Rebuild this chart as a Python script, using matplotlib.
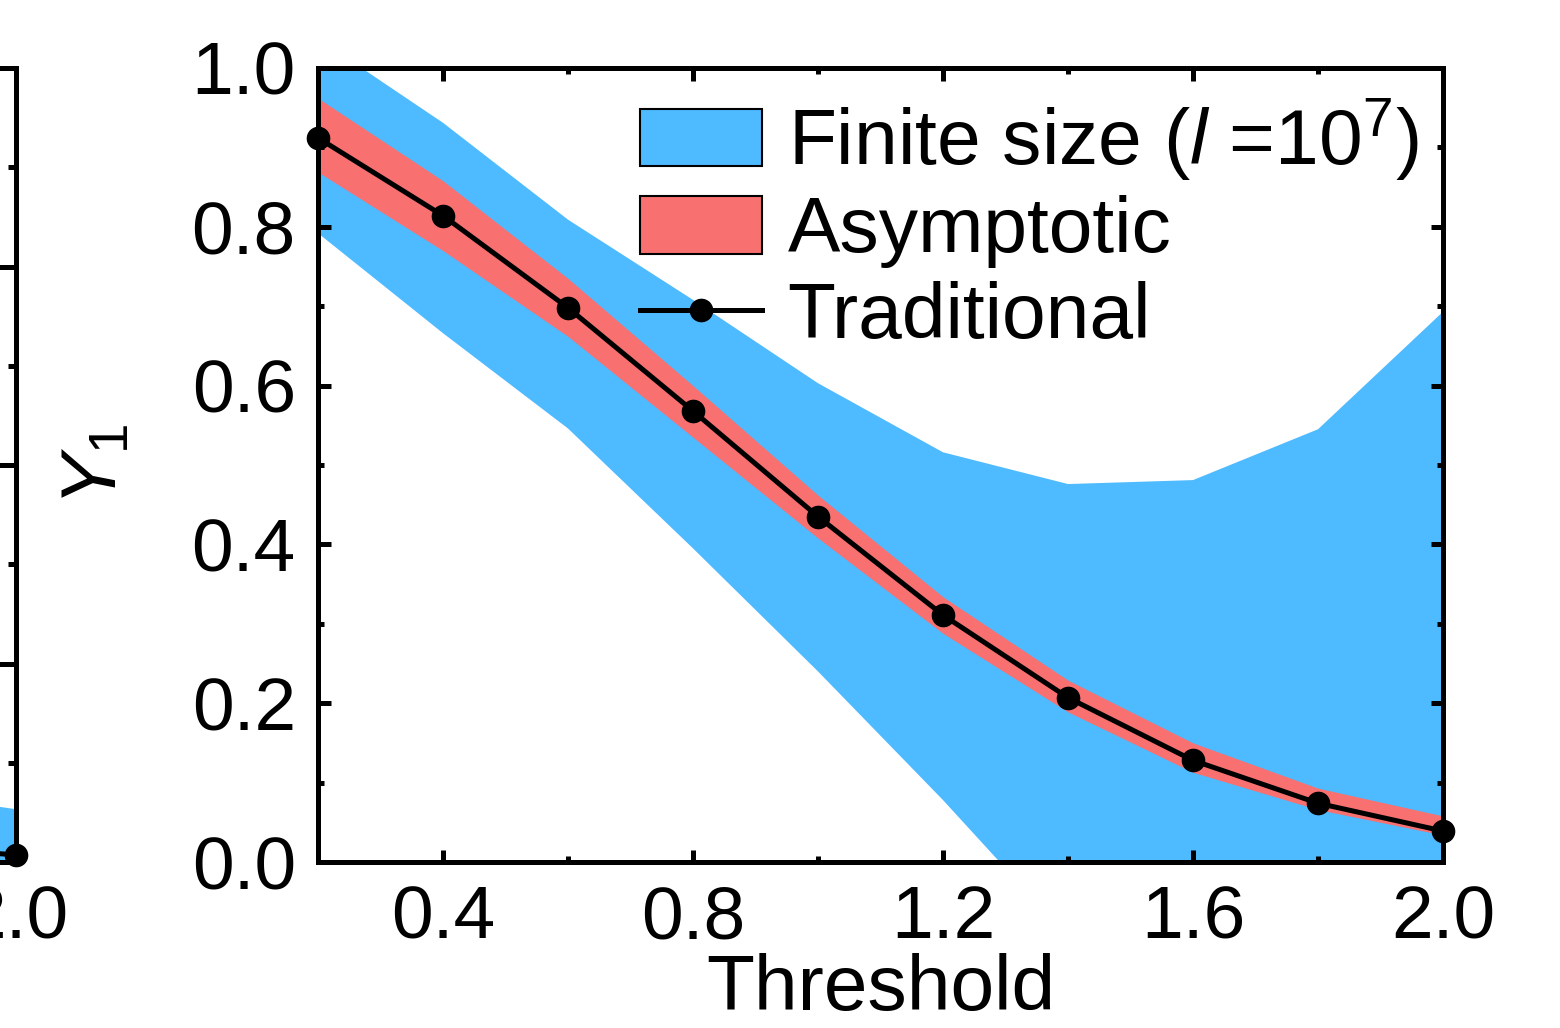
import matplotlib
matplotlib.use("Agg")
import matplotlib.pyplot as plt
from matplotlib.patches import Patch
from matplotlib.lines import Line2D
from matplotlib.ticker import MultipleLocator

plt.rcParams['font.family'] = ['Liberation Sans', 'DejaVu Sans']
plt.rcParams['mathtext.fontset'] = 'custom'
plt.rcParams['mathtext.rm'] = 'Liberation Sans'
plt.rcParams['mathtext.it'] = 'Liberation Sans:italic'

BLUE = '#4EBAFF'
RED = '#F87070'
FS = 54      # tick labels
FS_TXT = 56.5  # axis label and legend

# data
threshold = [0.2, 0.4, 0.6, 0.8, 1.0, 1.2, 1.4, 1.6, 1.8, 2.0]
traditional = [0.912, 0.814, 0.698, 0.568, 0.435, 0.311, 0.207, 0.128, 0.074, 0.039]
asym_upper = [0.962, 0.858, 0.735, 0.600, 0.462, 0.334, 0.229, 0.150, 0.093, 0.058]
asym_lower = [0.869, 0.770, 0.662, 0.535, 0.408, 0.288, 0.189, 0.113, 0.066, 0.034]
finite_upper = [1.037, 0.931, 0.809, 0.708, 0.603, 0.516, 0.476, 0.481, 0.545, 0.693]
finite_lower = [0.792, 0.666, 0.546, 0.395, 0.240, 0.078, -0.094, -0.25, -0.40, -0.55]

# neighbouring panel, only its right edge shows
left_threshold = [1.8, 2.0]
left_traditional = [0.02, 0.009]
left_finite_upper = [0.09, 0.067]
left_finite_lower = [0.0, 0.0]

legend_labels = ['Finite size ($\\mathit{l}$ =10$^{7}$)', 'Asymptotic', 'Traditional']


def style_axes(ax, yminor):
    ax.set_xlim(0.2, 2.0)
    ax.set_ylim(0, 1.0)
    ax.xaxis.set_major_locator(MultipleLocator(0.4))
    ax.xaxis.set_minor_locator(MultipleLocator(0.2))
    ax.yaxis.set_major_locator(MultipleLocator(yminor * 2))
    ax.yaxis.set_minor_locator(MultipleLocator(yminor))
    ax.xaxis.set_major_formatter(plt.FormatStrFormatter('%.1f'))
    ax.yaxis.set_major_formatter(plt.FormatStrFormatter('%.1f'))
    ax.tick_params(which='both', direction='in', top=True, right=True, width=3.6,
                   labelsize=FS)
    ax.tick_params(which='major', length=9, pad=16)
    ax.tick_params(which='minor', length=4)
    for s in ax.spines.values():
        s.set_linewidth(3.6)


fig = plt.figure(figsize=(15.6, 10.28), dpi=100)
W, H = 1560, 1028
ax = fig.add_axes([318 / W, 166 / H, 1125 / W, 794 / H])
axl = fig.add_axes([(16 - 1125) / W, 166 / H, 1125 / W, 794 / H])

# main panel
ax.fill_between(threshold, finite_lower, finite_upper, color=BLUE, lw=0)
ax.fill_between(threshold, asym_lower, asym_upper, color=RED, lw=0)
ax.plot(threshold, traditional, '-o', color='k', lw=3.6, ms=16, clip_on=False, zorder=5)
style_axes(ax, 0.1)
ax.set_xlabel('Threshold', fontsize=FS_TXT, labelpad=0)
ax.set_ylabel('$\\mathit{Y}_{1}$', fontsize=FS_TXT)
ax.yaxis.set_label_coords(-0.165, 0.5)

handles = [Patch(facecolor=BLUE, edgecolor='k', lw=1.5),
           Patch(facecolor=RED, edgecolor='k', lw=1.5),
           Line2D([], [], color='k', marker='o', lw=3.6, ms=16)]
ax.legend(handles, legend_labels, loc='upper left',
          bbox_to_anchor=((640 - 318) / 1125, (862 - 96) / 794),
          frameon=False, fontsize=FS_TXT, borderpad=0, borderaxespad=0,
          handlelength=1.55, handleheight=0.75, handletextpad=0.33,
          labelspacing=0.16)

# left panel
axl.fill_between(left_threshold, left_finite_lower, left_finite_upper, color=BLUE, lw=0)
axl.plot(left_threshold, left_traditional, '-o', color='k', lw=3.6, ms=16, clip_on=False, zorder=5)
style_axes(axl, 0.125)
axl.tick_params(which='major', length=16)
axl.tick_params(which='minor', length=6)

fig.savefig('out.png', dpi=100)
